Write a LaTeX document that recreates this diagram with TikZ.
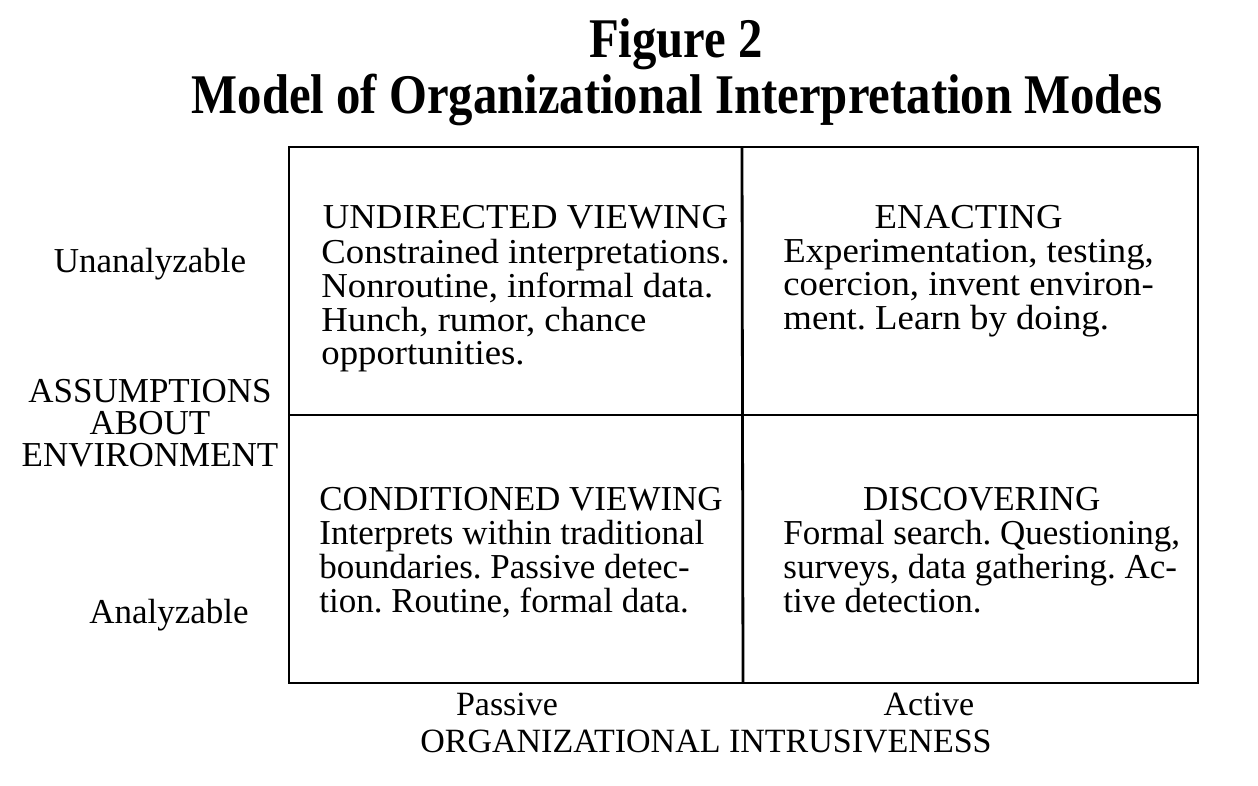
\documentclass[tikz,border=0pt]{standalone}
\usepackage{fontspec}
\setmainfont{Liberation Serif}
\newfontfamily\headfont[FakeStretch=0.87]{Liberation Serif}
\newfontfamily\wideserif[FakeStretch=1.05]{Liberation Serif}
\frenchspacing
\begin{document}
\begin{tikzpicture}[x=0.5pt,y=-0.5pt,
  rule/.style={line width=1.4pt},
  headline/.style={font=\headfont\bfseries\fontsize{28}{30}\selectfont, inner sep=0pt, anchor=base},
  cell/.style={font=\fontsize{17.5}{16.4}\selectfont, inner sep=0pt, anchor=base west},
  widecell/.style={cell, font=\wideserif\fontsize{17.5}{16.5}\selectfont},
  sidelabel/.style={font=\fontsize{17.5}{15.5}\selectfont, inner sep=0pt, anchor=base},
  axislabel/.style={font=\fontsize{17}{18}\selectfont, inner sep=0pt, anchor=base}]
\useasboundingbox (0,0) rectangle (1258,786);

% title
\node[headline] (fig) at (676,58) {Figure 2};
\node[headline] (title) at (677,114) {Model of Organizational Interpretation Modes};

% the 2x2 grid
\coordinate (nw) at (289,147);
\coordinate (se) at (1198,683);
\coordinate (mt) at (742,147);
\coordinate (mb) at (743,683);
\coordinate (ml) at (289,415);
\coordinate (mr) at (1198,415);
\draw[rule] (nw) rectangle (se);
\draw[rule] (mt) -- (mb);
\draw[rule] (ml) -- (mr);

% quadrant texts
\node[widecell] (undirected) at (321,229) {\begin{tabular}[t]{@{}l@{}}
  \multicolumn{1}{@{}c@{}}{UNDIRECTED VIEWING}\\
  Constrained interpretations.\\
  Nonroutine, informal data.\\
  Hunch, rumor, chance\\
  opportunities.\end{tabular}};
\node[widecell] (enacting) at (783,229) {\begin{tabular}[t]{@{}l@{}}
  \multicolumn{1}{@{}c@{}}{ENACTING}\\
  Experimentation, testing,\\
  coercion, invent environ-\\
  ment. Learn by doing.\end{tabular}};
\node[cell] (conditioned) at (319,510) {\begin{tabular}[t]{@{}l@{}}
  \multicolumn{1}{@{}c@{}}{CONDITIONED VIEWING}\\
  Interprets within traditional\\
  boundaries. Passive detec-\\
  tion. Routine, formal data.\end{tabular}};
\node[cell] (discovering) at (783,510) {\begin{tabular}[t]{@{}l@{}}
  \multicolumn{1}{@{}c@{}}{DISCOVERING}\\
  Formal search. Questioning,\\
  surveys, data gathering. Ac-\\
  tive detection.\end{tabular}};

% vertical axis
\node[sidelabel] (unan) at (150,273) {Unanalyzable};
\node[sidelabel] (assume) at (150,402) {\begin{tabular}[t]{@{}c@{}}
  ASSUMPTIONS\\ ABOUT\\ ENVIRONMENT\end{tabular}};
\node[sidelabel] (anal) at (169,623) {Analyzable};

% horizontal axis
\node[axislabel] (passive) at (507,715) {Passive};
\node[axislabel] (active) at (929,715) {Active};
\node[axislabel] (intrusive) at (706,752) {ORGANIZATIONAL INTRUSIVENESS};
\end{tikzpicture}
\end{document}
